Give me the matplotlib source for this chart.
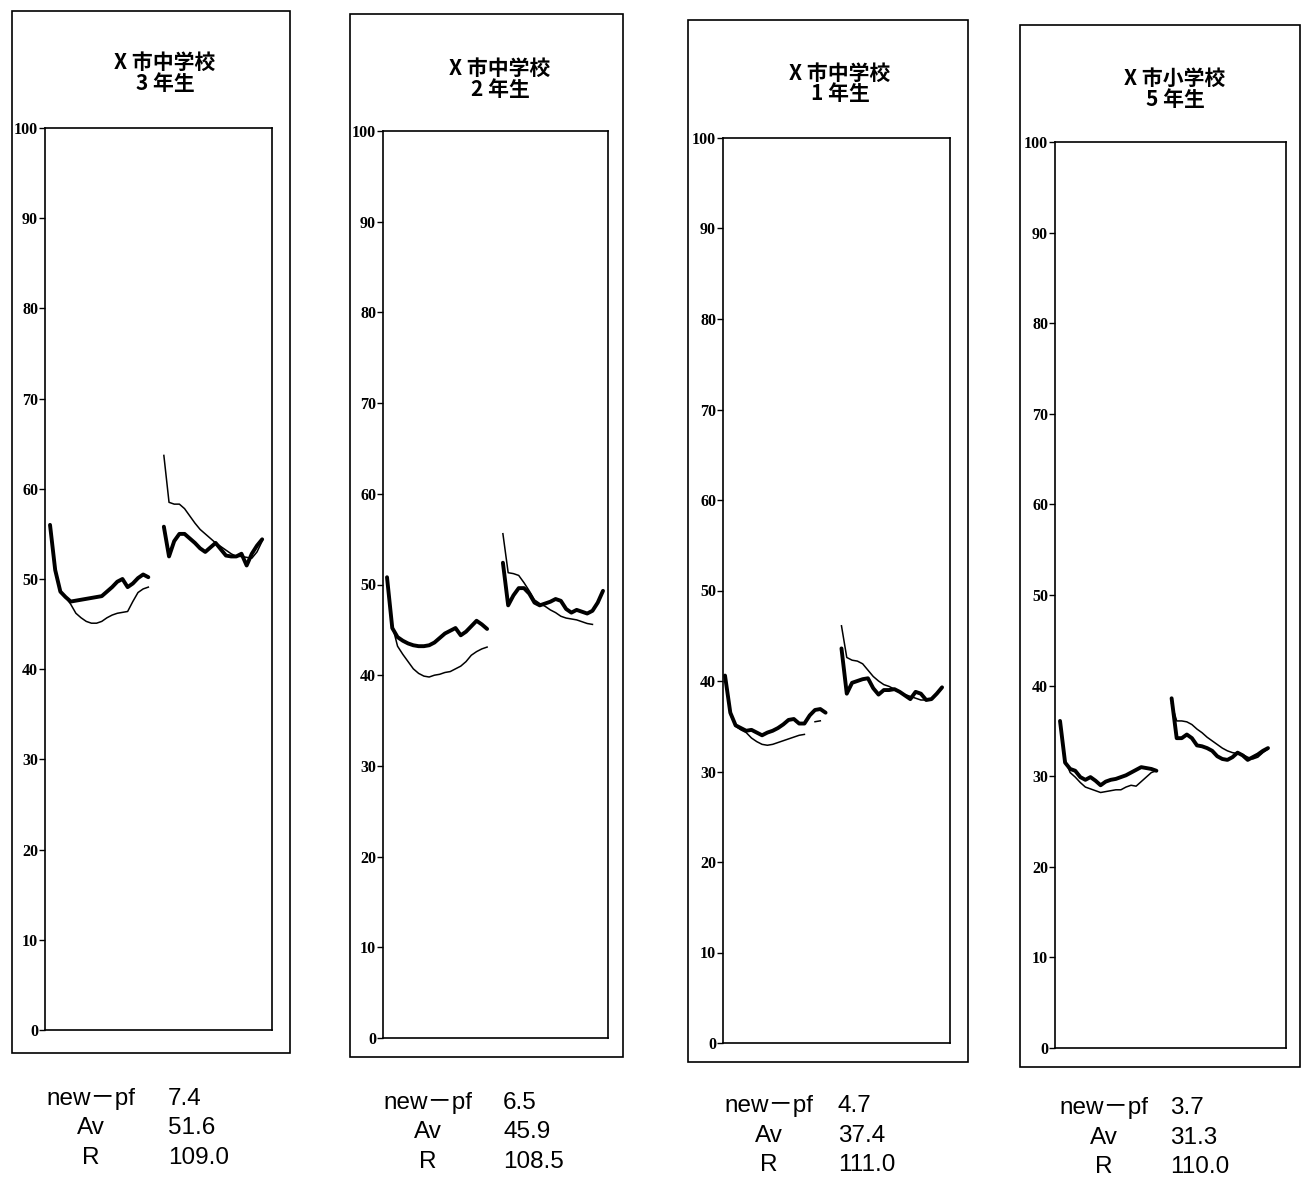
import numpy as np
import matplotlib
matplotlib.use("Agg")
import matplotlib.pyplot as plt
from matplotlib.patches import Rectangle

# ---------------- data ----------------
titles_line1 = ["X 市中学校", "X 市中学校", "X 市中学校", "X 市小学校"]
titles_line2 = ["3 年生", "2 年生", "1 年生", "5 年生"]
stat_labels = ["new－pf", "Av", "R"]
stat_values = [["7.4", "51.6", "109.0"],
               ["6.5", "45.9", "108.5"],
               ["4.7", "37.4", "111.0"],
               ["3.7", "31.3", "110.0"]]
y_ticks = [0, 10, 20, 30, 40, 50, 60, 70, 80, 90, 100]

x_left = list(range(0, 20))
x_right = list(range(22, 42))

nan = float("nan")

# panel 1 (中学校 3年生)
p1_thick_L = [56.0, 51.0, 48.6, 48.0, 47.5, 47.6, 47.7, 47.8, 47.9, 48.0,
              48.1, 48.6, 49.1, 49.7, 50.0, 49.1, 49.5, 50.1, 50.5, 50.2]
p1_thin_L = [56.0, 51.0, 48.6, 48.0, 47.2, 46.2, 45.7, 45.3, 45.1, 45.1,
             45.3, 45.7, 46.0, 46.2, 46.3, 46.4, 47.5, 48.5, 48.9, 49.1]
p1_thick_R = [55.8, 52.5, 54.2, 55.0, 55.0, 54.5, 54.0, 53.4, 53.0, 53.5,
              54.0, 53.3, 52.6, 52.5, 52.5, 52.8, 51.5, 52.8, 53.7, 54.4]
p1_thin_R = [63.7, 58.5, 58.3, 58.3, 57.8, 57.0, 56.2, 55.5, 55.0, 54.5,
             54.0, 53.6, 53.2, 52.8, 52.5, 52.5, 52.4, 52.3, 53.0, 54.2]

# panel 2 (中学校 2年生)
p2_thick_L = [50.8, 45.2, 44.2, 43.8, 43.5, 43.3, 43.2, 43.2, 43.3, 43.6,
              44.1, 44.6, 44.9, 45.2, 44.4, 44.8, 45.4, 46.0, 45.6, 45.1]
p2_thin_L = [50.5, 45.5, 43.2, 42.3, 41.5, 40.7, 40.2, 39.9, 39.8, 40.0,
             40.1, 40.3, 40.4, 40.7, 41.0, 41.5, 42.2, 42.6, 42.9, 43.1]
p2_thick_R = [52.4, 47.7, 48.8, 49.6, 49.6, 49.0, 48.0, 47.7, 47.9, 48.1,
              48.4, 48.2, 47.3, 46.9, 47.2, 47.0, 46.8, 47.1, 48.0, 49.3]
p2_thin_R = [55.6, 51.3, 51.2, 51.0, 50.2, 49.3, 48.3, 47.9, 47.6, 47.2,
             46.9, 46.5, 46.3, 46.2, 46.1, 45.9, 45.7, 45.6, nan, nan]

# panel 3 (中学校 1年生)
p3_thick_L = [40.6, 36.5, 35.1, 34.8, 34.5, 34.6, 34.3, 34.0, 34.3, 34.5,
              34.8, 35.2, 35.7, 35.8, 35.3, 35.3, 36.2, 36.8, 36.9, 36.5]
p3_thin_L = [40.5, 36.3, 35.0, 34.6, 34.3, 33.7, 33.3, 33.0, 32.9, 33.0,
             33.2, 33.4, 33.6, 33.8, 34.0, 34.1, nan, 35.5, 35.6, nan]
p3_thick_R = [43.6, 38.6, 39.8, 40.0, 40.2, 40.3, 39.2, 38.5, 39.0, 39.0,
              39.1, 38.8, 38.4, 38.0, 38.8, 38.6, 37.9, 38.0, 38.6, 39.3]
p3_thin_R = [46.1, 42.6, 42.3, 42.2, 41.9, 41.2, 40.5, 40.0, 39.6, 39.4,
             39.1, 38.8, 38.5, 38.3, 38.1, 37.9, 37.9, 38.0, 38.6, 39.2]

# panel 4 (小学校 5年生)
p4_thick_L = [36.1, 31.5, 30.8, 30.6, 29.9, 29.6, 29.9, 29.5, 29.0, 29.4,
              29.6, 29.7, 29.9, 30.1, 30.4, 30.7, 31.0, 30.9, 30.8, 30.6]
p4_thin_L = [36.0, 31.8, 30.4, 29.9, 29.3, 28.8, 28.6, 28.4, 28.2, 28.3,
             28.4, 28.5, 28.5, 28.8, 29.0, 28.9, 29.4, 29.9, 30.4, 30.6]
p4_thick_R = [38.6, 34.2, 34.2, 34.6, 34.2, 33.4, 33.3, 33.1, 32.8, 32.2,
              31.9, 31.8, 32.1, 32.6, 32.3, 31.8, 32.1, 32.4, 32.8, 33.1]
p4_thin_R = [38.0, 36.1, 36.1, 36.0, 35.7, 35.2, 34.8, 34.3, 33.9, 33.5,
             33.1, 32.8, 32.6, 32.5, 32.4, 32.1, 31.9, 32.1, 32.6, 33.0]

thick_L = [p1_thick_L, p2_thick_L, p3_thick_L, p4_thick_L]
thin_L = [p1_thin_L, p2_thin_L, p3_thin_L, p4_thin_L]
thick_R = [p1_thick_R, p2_thick_R, p3_thick_R, p4_thick_R]
thin_R = [p1_thin_R, p2_thin_R, p3_thin_R, p4_thin_R]

# ---------------- layout (pixels) ----------------
W, H = 1305, 1183
outer_boxes = [(12, 11, 290, 1053), (350, 14, 623, 1057),
               (688, 20, 968, 1062), (1020, 25, 1300, 1067)]
inner_boxes = [(45, 128, 272, 1030), (383, 131, 608, 1038),
               (723, 138, 950, 1043), (1055, 142, 1286, 1048)]
xlims = [(-0.97, 42.9), (-0.76, 41.95), (-0.38, 42.5), (-0.99, 44.55)]
title_pos = [(165, 62), (500, 68), (840, 73), (1175, 78)]
stat_pos = [(91, 168, 1099), (428, 503, 1103), (769, 838, 1106), (1104, 1170, 1108)]
row_gap = 29.5

fig = plt.figure(figsize=(W / 100, H / 100), dpi=100)
fig.patch.set_facecolor("white")

cjk = ["Noto Sans CJK JP", "DejaVu Sans"]
sans = ["Liberation Sans", "Noto Sans CJK JP", "DejaVu Sans"]


def fx(x):
    return x / W


def fy(y):
    return 1 - y / H


for i in range(4):
    ox0, oy0, ox1, oy1 = outer_boxes[i]
    fig.add_artist(Rectangle((fx(ox0), fy(oy1)), fx(ox1 - ox0), (oy1 - oy0) / H,
                             transform=fig.transFigure, fill=False,
                             edgecolor="black", linewidth=1.2))
    x0, y0, x1, y1 = inner_boxes[i]
    ax = fig.add_axes([fx(x0), fy(y1), fx(x1 - x0), (y1 - y0) / H])
    ax.set_xlim(*xlims[i])
    ax.set_ylim(0, 100)
    for s in ax.spines.values():
        s.set_linewidth(1.2)
    ax.set_xticks([])
    ax.set_yticks(y_ticks)
    ax.set_yticklabels([str(t) for t in y_ticks], fontfamily="Liberation Serif",
                       fontweight="bold", fontsize=11.5)
    ax.tick_params(axis="y", direction="out", length=4, width=1, pad=1)

    ax.plot(x_left, thin_L[i], color="black", linewidth=1.1, solid_joinstyle="round")
    ax.plot(x_right, thin_R[i], color="black", linewidth=1.1, solid_joinstyle="round")
    ax.plot(x_left, thick_L[i], color="black", linewidth=2.8,
            solid_joinstyle="round", solid_capstyle="round")
    ax.plot(x_right, thick_R[i], color="black", linewidth=2.8,
            solid_joinstyle="round", solid_capstyle="round")

    tx, ty = title_pos[i]
    fig.text(fx(tx), fy(ty), titles_line1[i], ha="center", va="center",
             fontsize=15, fontweight="bold", family=cjk)
    fig.text(fx(tx), fy(ty + 21), titles_line2[i], ha="center", va="center",
             fontsize=15, fontweight="bold", family=cjk)

    lx, vx, sy = stat_pos[i]
    for r in range(3):
        fig.text(fx(lx), fy(sy + r * row_gap), stat_labels[r], ha="center",
                 va="center", fontsize=17.5, family=sans)
        fig.text(fx(vx), fy(sy + r * row_gap), stat_values[i][r], ha="left",
                 va="center", fontsize=17.5, family=sans)

fig.savefig("out.png", dpi=100, facecolor="white")
